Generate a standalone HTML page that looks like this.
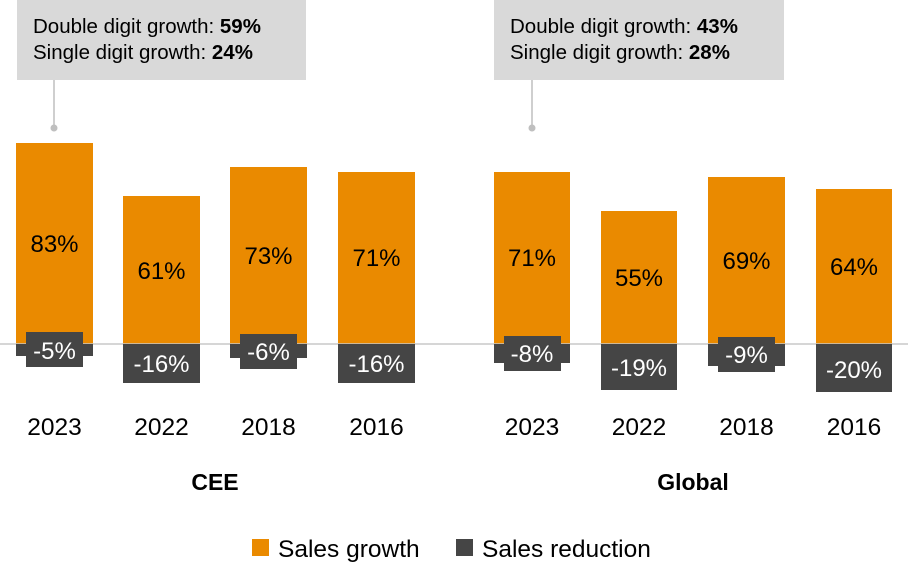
<!DOCTYPE html>
<html><head><style>
body{margin:0;background:#fff;}
svg{display:block;font-family:"Liberation Sans",Arial,sans-serif;}
</style></head><body>
<svg width="908" height="578" viewBox="0 0 908 578">
<rect x="17" y="0" width="289" height="80" fill="#d9d9d9"/>
<text x="33" y="33" font-size="20.5" fill="#000">Double digit growth: <tspan font-weight="bold">59%</tspan></text>
<text x="33" y="59" font-size="20.5" fill="#000">Single digit growth: <tspan font-weight="bold">24%</tspan></text>
<line x1="54" y1="80" x2="54" y2="128" stroke="#bfbfbf" stroke-width="1.5"/>
<circle cx="54" cy="128" r="3.5" fill="#bfbfbf"/>
<rect x="494" y="0" width="290" height="80" fill="#d9d9d9"/>
<text x="510" y="33" font-size="20.5" fill="#000">Double digit growth: <tspan font-weight="bold">43%</tspan></text>
<text x="510" y="59" font-size="20.5" fill="#000">Single digit growth: <tspan font-weight="bold">28%</tspan></text>
<line x1="532" y1="80" x2="532" y2="128" stroke="#bfbfbf" stroke-width="1.5"/>
<circle cx="532" cy="128" r="3.5" fill="#bfbfbf"/>

<g fill="#ea8a00">
<rect x="16" y="143" width="77" height="201"/>
<rect x="123" y="196" width="77" height="148"/>
<rect x="230" y="167" width="77" height="177"/>
<rect x="338" y="172" width="77" height="172"/>
<rect x="494" y="172" width="76" height="172"/>
<rect x="601" y="211" width="76" height="133"/>
<rect x="708" y="177" width="77" height="167"/>
<rect x="816" y="189" width="76" height="155"/>
</g>
<line x1="0" y1="344" x2="908" y2="344" stroke="#c8c8c8" stroke-width="1.5"/>
<g fill="#454545">
<rect x="16" y="344" width="77" height="12"/>
<rect x="26" y="332" width="57" height="35"/>
<rect x="123" y="344" width="77" height="39"/>
<rect x="230" y="344" width="77" height="14"/>
<rect x="240" y="334" width="57" height="35"/>
<rect x="338" y="344" width="77" height="39"/>
<rect x="494" y="344" width="76" height="19"/>
<rect x="504" y="336" width="57" height="35"/>
<rect x="601" y="344" width="76" height="46"/>
<rect x="708" y="344" width="77" height="22"/>
<rect x="718" y="337" width="57" height="35"/>
<rect x="816" y="344" width="76" height="48"/>
</g>
<g font-size="24" text-anchor="middle" fill="#000">
<text x="54.5" y="252">83%</text>
<text x="161.5" y="279">61%</text>
<text x="268.5" y="264">73%</text>
<text x="376.5" y="266">71%</text>
<text x="532" y="266">71%</text>
<text x="639" y="286">55%</text>
<text x="746.5" y="269">69%</text>
<text x="854" y="275">64%</text>
</g>
<g font-size="24" text-anchor="middle" fill="#fff">
<text x="54.5" y="359">-5%</text>
<text x="161.5" y="372">-16%</text>
<text x="268.5" y="360">-6%</text>
<text x="376.5" y="372">-16%</text>
<text x="532" y="362">-8%</text>
<text x="639" y="376">-19%</text>
<text x="746.5" y="363">-9%</text>
<text x="854" y="378">-20%</text>
</g>
<g font-size="24.5" text-anchor="middle" fill="#000">
<text x="54.5" y="435">2023</text>
<text x="161.5" y="435">2022</text>
<text x="268.5" y="435">2018</text>
<text x="376.5" y="435">2016</text>
<text x="532" y="435">2023</text>
<text x="639" y="435">2022</text>
<text x="746.5" y="435">2018</text>
<text x="854" y="435">2016</text>
<text x="215" y="490" font-weight="bold" font-size="23">CEE</text>
<text x="693" y="490" font-weight="bold" font-size="23">Global</text>
</g>
<rect x="252" y="539" width="17" height="17" fill="#ea8a00"/>
<text x="278" y="557" font-size="24.5">Sales growth</text>
<rect x="456" y="539" width="17" height="17" fill="#454545"/>
<text x="482" y="557" font-size="24.5">Sales reduction</text>
</svg>
</body></html>
